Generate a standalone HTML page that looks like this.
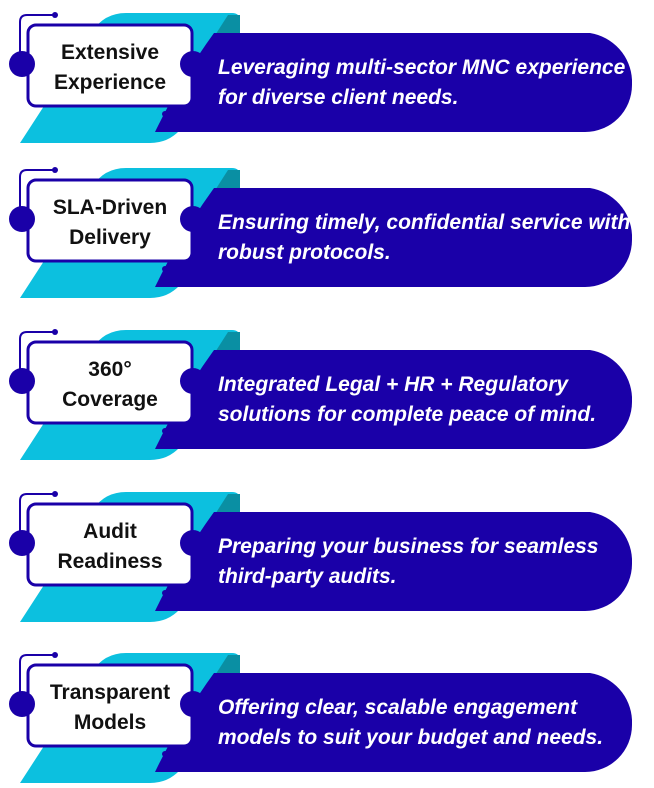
<!DOCTYPE html>
<html><head><meta charset="utf-8"><style>
html,body{margin:0;padding:0;background:#fff;width:654px;height:788px;overflow:hidden}
svg{display:block}
.t{font-family:"Liberation Sans",sans-serif;font-weight:bold;font-style:italic;font-size:21px;fill:#fff}
.b{font-family:"Liberation Sans",sans-serif;font-weight:bold;font-size:21px;fill:#111;text-anchor:middle}
</style></head><body>
<svg width="654" height="788" viewBox="0 0 654 788">
<defs>
<g id="row">
  <path d="M20,143 L92,32 Q104,13 126,13 L232,13 Q240,13 240,21 L240,70 L180,130 Q168,143 150,143 Z" fill="#0cc0df"/>
  <path d="M228,15 L240,15 L240,40 L212,40 Z" fill="#0a8fa3"/>
  <path d="M214,33 L590,33 A50,50 0 0 1 632,80 L632,85 A47,47 0 0 1 585,132 L155,132 Q180,80 214,33 Z" fill="#1a00a8"/>
  <path d="M20,56 L20,22 Q20,15 27,15 L55,15" fill="none" stroke="#1a00a8" stroke-width="2"/>
  <circle cx="55" cy="15" r="3" fill="#1a00a8"/>
  <rect x="28" y="25" width="164" height="81" rx="8" fill="#fff" stroke="#1a00a8" stroke-width="3"/>
  <circle cx="22" cy="64" r="13" fill="#1a00a8"/>
  <circle cx="193" cy="64" r="13" fill="#1a00a8"/>
  <line x1="165" y1="114" x2="180" y2="114" stroke="#1a00a8" stroke-width="2"/>
  <circle cx="165" cy="114" r="3" fill="#1a00a8"/>
</g>
</defs>
<g transform="translate(0,0)"><use href="#row"/>
<text class="b" x="110" y="59">Extensive</text><text class="b" x="110" y="89">Experience</text>
<text class="t" x="218" y="74">Leveraging multi-sector MNC experience</text><text class="t" x="218" y="104">for diverse client needs.</text></g>
<g transform="translate(0,155)"><use href="#row"/>
<text class="b" x="110" y="59">SLA-Driven</text><text class="b" x="110" y="89">Delivery</text>
<text class="t" x="218" y="74">Ensuring timely, confidential service with</text><text class="t" x="218" y="104">robust protocols.</text></g>
<g transform="translate(0,317)"><use href="#row"/>
<text class="b" x="110" y="59">360°</text><text class="b" x="110" y="89">Coverage</text>
<text class="t" x="218" y="74">Integrated Legal + HR + Regulatory</text><text class="t" x="218" y="104">solutions for complete peace of mind.</text></g>
<g transform="translate(0,479)"><use href="#row"/>
<text class="b" x="110" y="59">Audit</text><text class="b" x="110" y="89">Readiness</text>
<text class="t" x="218" y="74">Preparing your business for seamless</text><text class="t" x="218" y="104">third-party audits.</text></g>
<g transform="translate(0,640)"><use href="#row"/>
<text class="b" x="110" y="59">Transparent</text><text class="b" x="110" y="89">Models</text>
<text class="t" x="218" y="74">Offering clear, scalable engagement</text><text class="t" x="218" y="104">models to suit your budget and needs.</text></g>
</svg>
</body></html>
